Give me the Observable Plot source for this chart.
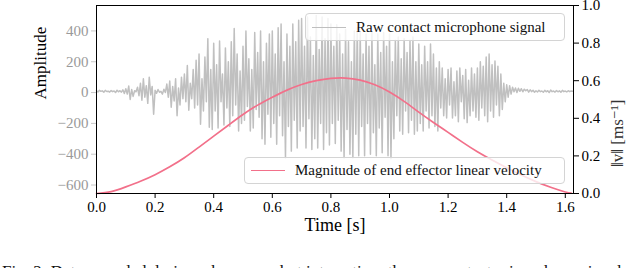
<!DOCTYPE html>
<html><head><meta charset="utf-8">
<script src="https://cdn.jsdelivr.net/npm/d3@7"></script>
<script src="https://cdn.jsdelivr.net/npm/@observablehq/plot@0.6"></script>
<style>
body{margin:0;background:#fff;font-family:"Liberation Serif","Times New Roman",Tinos,"DejaVu Serif",serif;}
#wrap{position:relative;width:626px;height:268px;overflow:hidden;background:#fff;}
#wrap svg, #wrap svg text{font-family:"Liberation Serif","Times New Roman",Tinos,"DejaVu Serif",serif !important;}
.leg{position:absolute;background:rgba(255,255,255,0.8);border:1px solid #d4d4d4;border-radius:4px;box-sizing:border-box;font-size:15px;color:#111;display:flex;align-items:center;padding-left:6px;white-space:nowrap;}
.sw{display:inline-block;width:34px;height:0;margin-right:10px;}
#caption{position:absolute;left:2px;top:262px;font-size:17px;white-space:nowrap;color:#111;}
</style></head>
<body><div id="wrap"></div>
<script>
// ---- data ----
const sampleStep = 0.005; // seconds between raw samples
const signal = [
 12, 4, 15, 8, 11, 2, 14, 7, 9, 3, 13, 6, 10, 0, 15, 5, 12, 3, 18, -6,
 25, -10, 42, -45, 20, -25, 12, 5, 35, -20, 60, -50, 90, -30, 45, -70, 100, -15, 40, -140,
 15, -5, 20, 2, 8, -10, 22, 0, 55, -30, 75, -95, 40, -55, 90, -150, 30, -80, 100, -40,
 120, -60, 175, -115, 60, -40, 150, -100, 210, -80, 250, -205, 90, -120, 230, -60, 350, -225, 150, -240,
 320, -120, 180, -230, 335, -60, 120, -210, 290, -100, 200, -220, 330, -150, 415, -80, 250, -250, 140, -200,
 300, -180, 400, -90, 220, -250, 150, -230, 390, -110, 260, -160, 400, -300, 200, -335, 320, -140, 380, -290,
 400, -200, 250, -335, 420, -150, 445, -280, 200, -425, 380, -220, 300, -380, 445, -180, 330, -360, 470, -250,
 480, -220, 300, -360, 490, -170, 360, -370, 240, -300, 500, -360, 280, -200, 490, -370, 350, -260, 480, -340,
 445, -200, 300, -330, 440, -180, 380, -380, 250, -425, 410, -240, 330, -400, 200, -425, 400, -270, 420, -410,
 390, -220, 250, -410, 380, -200, 300, -400, 390, -260, 180, -410, 380, -230, 260, -390, 390, -160, 300, -410,
 380, -430, 200, -300, 340, -150, 360, -250, 220, -270, 350, -120, 260, -260, 340, -180, 360, -270, 200, -250,
 315, -200, 180, -250, 300, -120, 200, -230, 315, -150, 250, -220, 160, -250, 200, -100, 160, -150, 90, -165,
 150, -80, 160, -165, 70, -150, 140, -190, 160, -60, 110, -170, 150, -195, 80, -150, 160, -120, 120, -160,
 160, -180, 200, -100, 170, -150, 230, -190, 250, -120, 180, -160, 205, -80, 170, -150, 120, -110, 60, -60,
 50, -30, 45, -10, 35, 5, 30, 0, 28, 8, 25, 5, 22, 12, 20, 3, 18, 6, 15, 2,
 12, 4, 15, 6, 10, 2, 14, 5, 12, 0, 16, 6, 10, 3, 13, 5, 11, 2, 14, 6,
 10, 4, 12, 6, 10, 8
];
const velTime = [0, 0.05, 0.1, 0.15, 0.2, 0.25, 0.3, 0.35, 0.4, 0.45, 0.5, 0.55, 0.6, 0.65, 0.7, 0.75, 0.8, 0.85, 0.9, 0.95, 1.0, 1.05, 1.1, 1.15, 1.2, 1.25, 1.3, 1.35, 1.4, 1.45, 1.5, 1.55, 1.6, 1.62];
const velocity = [0, 0.01, 0.035, 0.065, 0.1, 0.142, 0.19, 0.247, 0.305, 0.363, 0.42, 0.47, 0.512, 0.55, 0.58, 0.6, 0.612, 0.614, 0.603, 0.578, 0.54, 0.49, 0.433, 0.378, 0.325, 0.272, 0.222, 0.178, 0.137, 0.098, 0.063, 0.033, 0.008, 0.002];
const xTicks = [0, 0.2, 0.4, 0.6, 0.8, 1.0, 1.2, 1.4, 1.6];
const ampTicks = [-600, -400, -200, 0, 200, 400];
const velTicks = [0, 0.2, 0.4, 0.6, 0.8, 1.0];
const xDomain = [0, 1.628];
const yDomain = [-655, 565];
const velDomain = [0, 1];

// ---- chart ----
const toAmp = v => yDomain[0] + (v - velDomain[0]) / (velDomain[1] - velDomain[0]) * (yDomain[1] - yDomain[0]);
const fromAmp = a => velDomain[0] + (a - yDomain[0]) / (yDomain[1] - yDomain[0]) * (velDomain[1] - velDomain[0]);
const sig = signal.map((a, i) => ({t: i * sampleStep, a}));
const vel = velTime.map((t, i) => ({t, v: velocity[i]}));
const fmtInt = d3.format("d");
const serif = "'Liberation Serif', 'Times New Roman', Tinos, 'DejaVu Serif', serif";

const plot = Plot.plot({
  width: 626, height: 240,
  marginLeft: 96, marginRight: 53, marginTop: 5, marginBottom: 47,
  x: {domain: xDomain},
  y: {domain: yDomain},
  style: {fontFamily: serif, fontSize: "15px", background: "white", color: "black"},
  marks: [
    Plot.line(sig, {x: "t", y: "a", stroke: "#c0c0c0", strokeWidth: 1.5}),
    Plot.line(vel, {x: "t", y: d => toAmp(d.v), stroke: "#f2708a", strokeWidth: 1.7, curve: "natural"}),
    Plot.axisX(xTicks, {tickSize: 5, tickPadding: 3, tickFormat: d => d.toFixed(1), label: null, stroke: "black", fill: "black"}),
    Plot.axisY(ampTicks, {anchor: "left", tickSize: 5, tickPadding: 3, tickFormat: fmtInt, label: null, stroke: "#c8c8c8", fill: "#9a9a9a"}),
    Plot.axisY(velTicks.map(toAmp), {anchor: "right", tickSize: 5, tickPadding: 3, tickFormat: d => fromAmp(d).toFixed(1), label: null, stroke: "black", fill: "black"}),
    Plot.frame({stroke: "black", strokeWidth: 1}),
    Plot.text(["Amplitude"], {frameAnchor: "left", dx: -56, rotate: -90, fontSize: 17, fill: "black"}),
    Plot.text(["‖v‖ [ms⁻¹]"], {frameAnchor: "right", dx: 44, rotate: -90, fontSize: 17, fill: "#333"}),
    Plot.text(["Time [s]"], {frameAnchor: "bottom", dy: 37, fontSize: 18, fill: "black"})
  ]
});
const wrap = document.getElementById("wrap");
wrap.appendChild(plot);

function legend(left, top, w, h, color, label) {
  const d = document.createElement("div");
  d.className = "leg";
  Object.assign(d.style, {left: left + "px", top: top + "px", width: w + "px", height: h + "px"});
  const s = document.createElement("span");
  s.className = "sw";
  s.style.borderTop = "1.7px solid " + color;
  d.appendChild(s);
  d.appendChild(document.createTextNode(label));
  wrap.appendChild(d);
}
legend(305, 13, 260, 28, "#bfbfbf", "Raw contact microphone signal");
legend(244, 157, 321, 27, "#f2708a", "Magnitude of end effector linear velocity");

const cap = document.createElement("div");
cap.id = "caption";
cap.textContent = "Fig. 2: Data recorded during a human–robot interaction: the raw contact microphone signal and the HRI end effector velocity.";
wrap.appendChild(cap);
</script></body></html>
